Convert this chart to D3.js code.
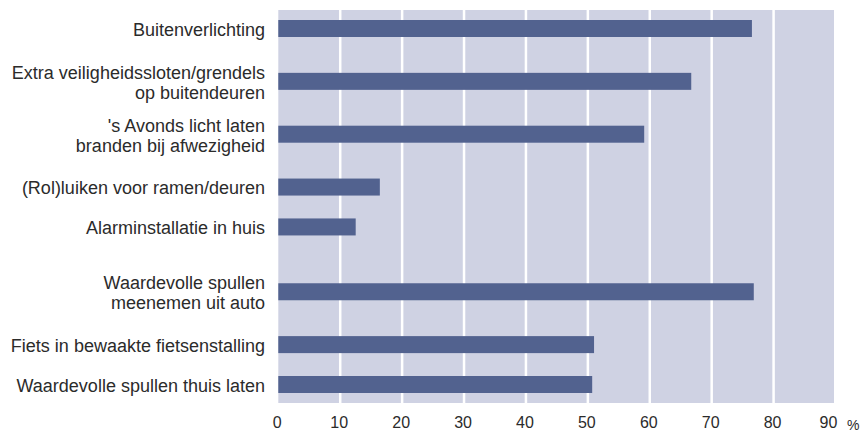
<!DOCTYPE html>
<html>
<head>
<meta charset="utf-8">
<script src="https://cdn.jsdelivr.net/npm/d3@7"></script>
<style>
  body { margin: 0; background: #fff; }
  svg { display: block; }
</style>
</head>
<body>
<div id="chart"></div>
<script>
const WIDTH = 861;
const HEIGHT = 432;

// data
const CATEGORIES = [
	'Buitenverlichting',
	'Extra veiligheidssloten/grendels\nop buitendeuren',
	"'s Avonds licht laten\nbranden bij afwezigheid",
	'(Rol)luiken voor ramen/deuren',
	'Alarminstallatie in huis',
	'Waardevolle spullen\nmeenemen uit auto',
	'Fiets in bewaakte fietsenstalling',
	'Waardevolle spullen thuis laten'
];
const GROUPS = [0, 0, 0, 0, 0, 1, 1, 1];
const VALUES = [76.5, 66.7, 59.1, 16.4, 12.5, 76.8, 51.0, 50.7];
const TICKS = [0, 10, 20, 30, 40, 50, 60, 70, 80, 90];

const BAR_COLOR = '#52628f';
const BG_COLOR = '#cfd2e3';
const TEXT_COLOR = '#2b2b2b';
const FONT = '"Liberation Sans", Arial, sans-serif';
const LEFT = 278.3;
const RIGHT = 835.5;
const TOP = 10;
const BOTTOM = 403;
const BAR_H = 17;
const LABEL_X = 265;

// row layout: single-line neighbours sit closer, extra gap between groups
const lineCount = s => s.split('\n').length;
const rowUnits = [];
CATEGORIES.forEach((c, i) => {
	if (i === 0) { rowUnits.push(0); return; }
	let step = (lineCount(c) === 1 && lineCount(CATEGORIES[i - 1]) === 1) ? 40 : 53;
	if (GROUPS[i] !== GROUPS[i - 1]) step += 12;
	rowUnits.push(rowUnits[i - 1] + step);
});

const svg = d3.select('#chart')
	.append('svg')
	.attr('width', WIDTH)
	.attr('height', HEIGHT);

const xScale = d3.scaleLinear()
	.domain([0, 90])
	.range([LEFT, RIGHT]);
const yScale = d3.scaleLinear()
	.domain([0, rowUnits[rowUnits.length - 1]])
	.range([28.5, 384.5]);

// background
svg.append('rect')
	.attr('x', xScale(0))
	.attr('y', TOP)
	.attr('width', xScale(90) - xScale(0) - 1.5)
	.attr('height', BOTTOM - TOP)
	.attr('fill', BG_COLOR);

// grid lines
svg.selectAll('.grid')
	.data(TICKS.slice(1, -1))
	.enter()
	.append('line')
	.attr('x1', d => xScale(d))
	.attr('x2', d => xScale(d))
	.attr('y1', TOP)
	.attr('y2', BOTTOM)
	.attr('stroke', '#fff')
	.attr('stroke-width', 2.5);

// bars
svg.selectAll('.bar')
	.data(VALUES)
	.enter()
	.append('rect')
	.attr('x', xScale(0))
	.attr('y', (d, i) => yScale(rowUnits[i]) - BAR_H / 2)
	.attr('width', d => xScale(d) - xScale(0))
	.attr('height', BAR_H)
	.attr('fill', BAR_COLOR);

// category labels
const labels = svg.selectAll('.label')
	.data(CATEGORIES)
	.enter()
	.append('text')
	.attr('x', LABEL_X)
	.attr('y', (d, i) => yScale(rowUnits[i]) + 1)
	.style('font-family', FONT)
	.style('font-size', '18px')
	.style('fill', TEXT_COLOR)
	.style('text-anchor', 'end');

labels.each(function (d) {
	const lines = d.split('\n');
	const el = d3.select(this);
	const y = +el.attr('y');
	lines.forEach((line, j) => {
		el.append('tspan')
			.attr('x', LABEL_X)
			.attr('y', y + (j - (lines.length - 1) / 2) * 20)
			.attr('dy', '0.35em')
			.text(line);
	});
});

// x axis
const xAxis = d3.axisBottom(xScale)
	.tickValues(TICKS)
	.tickSize(0)
	.tickPadding(0);
const axisG = svg.append('g')
	.attr('transform', `translate(-1.5, ${BOTTOM + 14})`)
	.call(xAxis);
axisG.select('.domain').remove();
axisG.selectAll('text')
	.style('font-family', FONT)
	.style('font-size', '16px')
	.style('fill', TEXT_COLOR)
	.attr('dx', d => d === 90 ? -6 : 0);

svg.append('text')
	.attr('x', 847)
	.attr('y', BOTTOM + 27)
	.style('font-family', FONT)
	.style('font-size', '14px')
	.style('fill', TEXT_COLOR)
	.text('%');
</script>
</body>
</html>
